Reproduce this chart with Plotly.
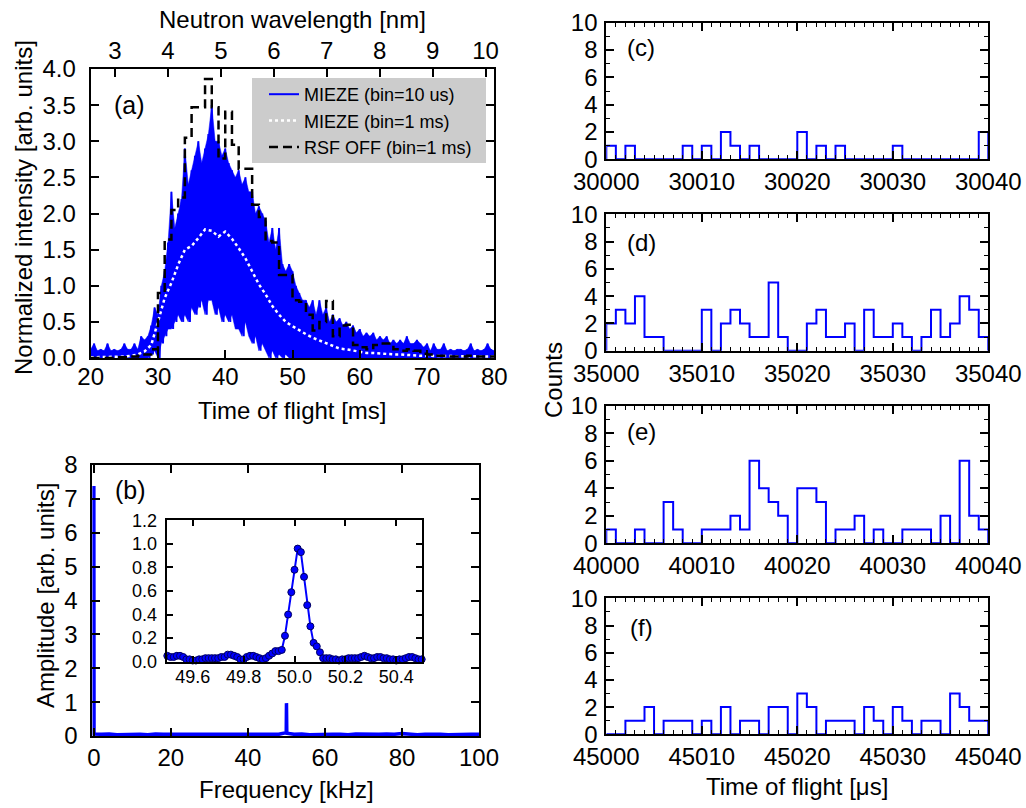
import plotly.graph_objects as go

W, H = 1026, 808

# ---------------- Panel (a): time-of-flight spectra ----------------
ms_per_nm = 7.87  # conversion read from the twin (wavelength) axis

# MIEZE, bin = 10 us : envelope of the fast oscillation, read every 0.5 ms
tof_env = [20 + 0.5 * i for i in range(121)]
mieze10_upper = [
    0.12, 0.2, 0.1, 0.12, 0.1, 0.2, 0.1, 0.12, 0.1, 0.12, 0.2, 0.12, 0.12, 0.2, 0.12, 0.3,
    0.25, 0.3, 0.45, 0.7,
    0.6, 1.0, 1.2, 1.6,
    2.3, 1.8, 2.0, 2.2,
    2.9, 2.4, 2.6, 2.8,
    3.0, 2.7, 2.9, 3.1,
    3.5, 3.0, 3.0, 2.8,
    2.9, 2.7, 2.6, 2.5,
    2.6, 2.4, 2.5, 2.3,
    2.3, 2.0, 2.1, 2.0,
    1.9, 1.6, 1.8, 1.5,
    1.8, 1.3, 1.2, 1.3,
    1.2, 1.0, 0.9, 0.8,
    0.8, 0.7, 0.8, 0.6,
    0.8, 0.6, 0.7, 0.5,
    0.6, 0.5, 0.55, 0.45,
    0.5, 0.4, 0.45, 0.35,
    0.4, 0.3, 0.35, 0.3,
    0.35, 0.25, 0.3, 0.25,
    0.3, 0.2, 0.25, 0.2,
    0.25, 0.2, 0.3, 0.2,
    0.2, 0.25, 0.2, 0.15,
    0.2, 0.1, 0.2, 0.12,
    0.12, 0.2, 0.1, 0.12,
    0.1, 0.12, 0.12, 0.1,
    0.12, 0.2, 0.1, 0.12,
    0.1, 0.12, 0.2, 0.12,
    0.1,
]
mieze10_lower = [
    0.0, 0.0, 0.0, 0.0, 0.0, 0.0, 0.0, 0.0, 0.0, 0.0, 0.0, 0.0, 0.0, 0.0, 0.0, 0.0,
    0.0, 0.0, 0.05, 0.1,
    0.0, 0.2, 0.3, 0.4,
    0.4, 0.5, 0.6, 0.5,
    0.6, 0.5, 0.7, 0.6,
    0.7, 0.8, 0.6, 0.8,
    0.8, 0.6, 0.7, 0.5,
    0.6, 0.5, 0.6, 0.4,
    0.4, 0.3, 0.5, 0.3,
    0.2, 0.3, 0.1, 0.2,
    0.1, 0.0, 0.1, 0.0,
    0.05, 0.0, 0.05, 0.0,
    0.0, 0.0, 0.0, 0.0,
    0.0, 0.0, 0.0, 0.0,
    0.0, 0.0, 0.0, 0.0,
    0.0, 0.0, 0.0, 0.0,
    0.0, 0.0, 0.0, 0.0,
    0.0, 0.0, 0.0, 0.0,
    0.0, 0.0, 0.0, 0.0,
    0.0, 0.0, 0.0, 0.0,
    0.0, 0.0, 0.0, 0.0,
    0.0, 0.0, 0.0, 0.0,
    0.0, 0.0, 0.0, 0.0,
    0.0, 0.0, 0.0, 0.0,
    0.0, 0.0, 0.0, 0.0,
    0.0, 0.0, 0.0, 0.0,
    0.0, 0.0, 0.0, 0.0,
    0.0,
]

# 1 ms bins, t = 20 ... 80 ms
tof_1ms = list(range(20, 81))
mieze_1ms = [
    0.01, 0.01, 0.01, 0.02, 0.02, 0.02, 0.03, 0.05, 0.09, 0.18,
    0.50, 0.83, 1.04, 1.29, 1.50, 1.55, 1.66, 1.78, 1.76, 1.68,
    1.75, 1.65, 1.52, 1.38, 1.20, 1.02, 0.88, 0.72, 0.60, 0.50,
    0.44, 0.38, 0.33, 0.28, 0.24, 0.20, 0.16, 0.13, 0.12, 0.10,
    0.08, 0.07, 0.07, 0.06, 0.06, 0.05, 0.05, 0.04, 0.04, 0.03,
    0.03, 0.03, 0.02, 0.02, 0.02, 0.02, 0.02, 0.02, 0.02, 0.02,
    0.02,
]
rsf_off_1ms = [
    0.0, 0.0, 0.0, 0.0, 0.01, 0.01, 0.02, 0.03, 0.05, 0.12,
    0.90, 1.64, 2.05, 2.22, 3.05, 3.47, 3.47, 3.86, 3.47, 2.76,
    3.41, 2.95, 2.62, 2.62, 2.12, 1.95, 1.62, 1.60, 1.15, 1.15,
    0.80, 0.78, 0.60, 0.38, 0.50, 0.79, 0.30, 0.45, 0.46, 0.18,
    0.15, 0.12, 0.18, 0.20, 0.20, 0.12, 0.10, 0.12, 0.10, 0.06,
    0.05, 0.03, 0.03, 0.02, 0.02, 0.02, 0.03, 0.02, 0.02, 0.02,
    0.02,
]
wavelength_ticks = [3, 4, 5, 6, 7, 8, 9, 10]
legend_names = ["MIEZE (bin=10 us)", "MIEZE (bin=1 ms)", "RSF OFF (bin=1 ms)"]

# ---------------- Panel (b): Fourier spectrum ----------------
freq_main = [0.0, 0.0125, 0.05, 2, 4, 6, 8, 10, 12, 14, 16, 18, 20, 22, 24, 26, 28,
             30, 32, 34, 36, 38, 40, 42, 44, 46, 48, 49.95, 50.0, 50.0125, 50.025,
             50.1, 52, 54, 56, 58, 60, 62, 64, 66, 68, 70, 72, 74, 76, 78, 80, 82,
             84, 86, 88, 90, 92, 94, 96, 98, 100]
amp_main = [7.38, 1.2, 0.06, 0.05, 0.06, 0.04, 0.05, 0.06, 0.05, 0.04, 0.06, 0.05,
            0.05, 0.06, 0.04, 0.05, 0.06, 0.05, 0.04, 0.05, 0.06, 0.05, 0.05, 0.04,
            0.06, 0.05, 0.05, 0.10, 0.78, 0.97, 0.93, 0.08, 0.05, 0.06, 0.04, 0.05,
            0.06, 0.05, 0.05, 0.04, 0.06, 0.05, 0.04, 0.05, 0.06, 0.05, 0.07, 0.05,
            0.04, 0.05, 0.06, 0.05, 0.04, 0.05, 0.06, 0.05, 0.05]

inset_freq = [49.5 + 0.0125 * i for i in range(81)]
inset_amp = [
    0.05, 0.04, 0.04, 0.05, 0.05, 0.04, 0.02, 0.02, 0.01, 0.01, 0.02, 0.02, 0.03, 0.03,
    0.03, 0.03, 0.03, 0.04, 0.04, 0.06, 0.06, 0.05, 0.04, 0.02, 0.02, 0.04, 0.05, 0.05,
    0.04, 0.03, 0.02, 0.03,
    0.05, 0.07, 0.09, 0.09, 0.10, 0.22, 0.40, 0.59,
    0.78, 0.96, 0.93, 0.72, 0.48, 0.30, 0.16, 0.13, 0.08, 0.03,
    0.03, 0.03, 0.02, 0.02, 0.01, 0.02, 0.02, 0.03, 0.03, 0.03, 0.03, 0.04, 0.05, 0.04,
    0.03, 0.03, 0.04, 0.04, 0.03, 0.03, 0.02, 0.02, 0.01, 0.02, 0.02, 0.03, 0.04, 0.04,
    0.03, 0.02, 0.02,
]

# ---------------- Panels (c)-(f): 1 us histograms ----------------
hist_starts = [30000, 35000, 40000, 45000]
hist_labels = ["(c)", "(d)", "(e)", "(f)"]
counts_c = [1, 0, 1, 0, 0, 0, 0, 0, 1, 0, 1, 0, 2, 1, 0, 1, 0, 0, 0, 0,
            2, 0, 1, 0, 1, 0, 0, 0, 0, 0, 1, 0, 0, 0, 0, 0, 0, 0, 0, 2]
counts_d = [2, 3, 2, 4, 1, 1, 0, 0, 0, 0, 3, 0, 2, 3, 2, 1, 1, 5, 1, 0,
            0, 2, 3, 1, 1, 2, 0, 3, 1, 1, 2, 1, 0, 1, 3, 1, 2, 4, 3, 1]
counts_e = [1, 0, 0, 1, 0, 0, 3, 1, 0, 0, 1, 1, 1, 2, 1, 6, 4, 3, 2, 0,
            4, 4, 3, 0, 1, 1, 2, 0, 1, 0, 0, 1, 1, 1, 0, 2, 0, 6, 2, 1]
counts_f = [0, 0, 1, 1, 2, 0, 1, 1, 1, 0, 1, 0, 2, 0, 1, 1, 0, 2, 2, 0,
            3, 2, 0, 1, 1, 1, 0, 2, 1, 0, 2, 1, 0, 1, 1, 0, 3, 2, 1, 1]
all_counts = [counts_c, counts_d, counts_e, counts_f]

# ---------------- layout geometry (pixels) ----------------
def fx(x0, x1):
    return [x0 / W, x1 / W]

def fy(top, bottom):
    return [1 - bottom / H, 1 - top / H]

def px(x):
    return x / W

def py(y):
    return 1 - y / H

FONT = "Liberation Sans, Arial, Helvetica, sans-serif"
BLUE = "#0000ff"
TICK = 24

base_axis = dict(showline=True, linecolor="black", linewidth=2, ticks="inside",
                 ticklen=8, tickwidth=1.5, tickcolor="black", showgrid=False,
                 zeroline=False, automargin=False,
                 tickfont=dict(size=TICK, color="black", family=FONT))

fig = go.Figure()

# ---- (a) traces ----
band_x = tof_env + tof_env[::-1]
band_y = mieze10_upper + mieze10_lower[::-1]
fig.add_trace(go.Scatter(x=band_x, y=band_y, mode="lines", fill="toself", fillcolor=BLUE,
                         line=dict(color=BLUE, width=0.5), showlegend=False,
                         hoverinfo="skip", xaxis="x", yaxis="y"))
zig_x, zig_y = [], []
for t, u, l in zip(tof_env, mieze10_upper, mieze10_lower):
    zig_x += [t, t + 0.25]
    zig_y += [u, l]
fig.add_trace(go.Scatter(x=zig_x, y=zig_y, mode="lines", name=legend_names[0],
                         legendgroup="g1", line=dict(color=BLUE, width=2),
                         xaxis="x", yaxis="y"))
fig.add_trace(go.Scatter(x=tof_1ms, y=mieze_1ms, mode="lines", name=legend_names[1],
                         legendgroup="g2",
                         line=dict(color="white", width=2.5, dash="3px,3px"),
                         xaxis="x", yaxis="y"))
fig.add_trace(go.Scatter(x=tof_1ms, y=rsf_off_1ms, mode="lines", name=legend_names[2],
                         legendgroup="g3",
                         line=dict(color="black", width=2.5, dash="9px,5px", shape="hv"),
                         xaxis="x", yaxis="y"))
# invisible trace so that the wavelength (top) axis is drawn
fig.add_trace(go.Scatter(x=[20 / ms_per_nm, 80 / ms_per_nm], y=[-10, -10], mode="lines",
                         line=dict(width=0), showlegend=False, hoverinfo="skip",
                         xaxis="x2", yaxis="y"))

# ---- (b) traces ----
fig.add_trace(go.Scatter(x=freq_main, y=amp_main, mode="lines", showlegend=False,
                         line=dict(color=BLUE, width=3.5), xaxis="x3", yaxis="y3"))
fig.add_trace(go.Scatter(x=inset_freq, y=inset_amp, mode="lines+markers", showlegend=False,
                         line=dict(color=BLUE, width=2),
                         marker=dict(color=BLUE, size=7, line=dict(color="#000060", width=1)),
                         xaxis="x4", yaxis="y4", cliponaxis=False))

# ---- (c)-(f) traces ----
for k, (start, counts) in enumerate(zip(hist_starts, all_counts)):
    edges = [start + i for i in range(len(counts) + 1)]
    xs = [edges[0]] + edges + [edges[-1]]
    ys = [0] + counts + [counts[-1], 0]
    fig.add_trace(go.Scatter(x=xs, y=ys, mode="lines", showlegend=False,
                             line=dict(color=BLUE, width=2, shape="hv"),
                             xaxis=f"x{5 + k}", yaxis=f"y{5 + k}"))

layout = dict(
    width=W, height=H, margin=dict(l=0, r=0, t=0, b=0, pad=0, autoexpand=False),
    paper_bgcolor="white", plot_bgcolor="white",
    font=dict(family=FONT, color="black"),
    showlegend=True,
    legend=dict(x=px(264), y=py(76), xanchor="left", yanchor="top",
                bgcolor="rgba(0,0,0,0)", borderwidth=0, font=dict(size=18, family=FONT),
                tracegroupgap=0, itemwidth=30),
    shapes=[dict(type="rect", xref="paper", yref="paper", x0=px(252), x1=px(486),
                 y0=py(163), y1=py(78), fillcolor="#cccccc", line=dict(width=0),
                 layer="above")],
)

# panel (a)
layout["xaxis"] = dict(base_axis, domain=fx(90.7, 494.3), range=[20, 80],
                       tickvals=[20, 30, 40, 50, 60, 70, 80],
                       anchor="y", mirror=True, ticklabelstandoff=-4)
layout["yaxis"] = dict(base_axis, domain=fy(69, 358), range=[0, 4], dtick=0.5, tickformat=".1f",
                       anchor="x", mirror="ticks", ticklabelstandoff=8)
layout["xaxis2"] = dict(base_axis, overlaying="x", side="top", anchor="y",
                        range=[20 / ms_per_nm, 80 / ms_per_nm], tickvals=wavelength_ticks,
                        showline=False, ticklabelstandoff=4)

# panel (b)
layout["xaxis3"] = dict(base_axis, domain=fx(92.3, 479), range=[-0.4, 100],
                        tickvals=[0, 20, 40, 60, 80, 100],
                        anchor="y3", mirror="ticks", ticklabelstandoff=-1)
layout["yaxis3"] = dict(base_axis, domain=fy(465, 736), range=[0, 8], dtick=1, anchor="x3",
                        mirror="ticks", ticklabelstandoff=8)
# inset
inset_tick = dict(size=18, color="black", family=FONT)
layout["xaxis4"] = dict(base_axis, domain=fx(167.3, 421.7), range=[49.5, 50.5],
                        tickvals=[49.6, 49.8, 50.0, 50.2, 50.4], tickformat=".1f", anchor="y4",
                        mirror="ticks", ticklen=6, tickfont=inset_tick, linewidth=1.5,
                        ticklabelstandoff=-2)
layout["yaxis4"] = dict(base_axis, domain=fy(520.3, 661.7), range=[0, 1.2], dtick=0.2,
                        tickformat=".1f", anchor="x4", mirror="ticks", ticklen=6,
                        tickfont=inset_tick, linewidth=1.5, ticklabelstandoff=5)

# panels (c)-(f)
right_rows = [(22.7, 159.3), (214.3, 350.7), (405.7, 543.3), (598.3, 734.3)]
for k, (start, (top, bot)) in enumerate(zip(hist_starts, right_rows)):
    xa, ya = f"xaxis{5 + k}", f"yaxis{5 + k}"
    layout[xa] = dict(base_axis, domain=fx(606.3, 988.3), range=[start, start + 40],
                      tickvals=[start + 10 * i for i in range(5)], tickformat="d",
                      anchor=f"y{5 + k}", mirror="allticks", ticklabelstandoff=0,
                      minor=dict(ticks="inside", ticklen=4, dtick=1, tickcolor="black",
                                 tickwidth=1.2, showgrid=False))
    layout[ya] = dict(base_axis, domain=fy(top, bot), range=[0, 10], dtick=2,
                      anchor=f"x{5 + k}", mirror="allticks", ticklabelstandoff=2,
                      minor=dict(ticks="inside", ticklen=4, dtick=1, tickcolor="black",
                                 tickwidth=1.2, showgrid=False))

annotations = []

def label(text, x, y, size, angle=0):
    annotations.append(dict(text=text, x=px(x), y=py(y), xref="paper", yref="paper",
                            showarrow=False, xanchor="center", yanchor="middle",
                            textangle=angle, font=dict(size=size, family=FONT, color="black")))

label("Normalized intensity [arb. units]", 23, 208, 24, -90)
label("Time of flight [ms]", 292, 410, 24)
label("Neutron wavelength [nm]", 292, 19, 24)
label("Amplitude [arb. units]", 45, 596, 24, -90)
label("Frequency [kHz]", 286, 789, 24)
label("Counts", 553, 380, 24, -90)
label("Time of flight [\u03bcs]", 797, 786, 24)
label("(a)", 129, 105, 25)
label("(b)", 130, 490, 25)
for lab, y in zip(hist_labels, [47, 243, 431, 627]):
    label(lab, 641, y, 24)

layout["annotations"] = annotations
fig.update_layout(**layout)

# remove the page's default body margin so the figure sits at the window origin
fig.write_html("out.html",
               config={"displayModeBar": False},
               post_script="document.body.style.margin='0px';"
                           "document.body.style.padding='0px';"
                           "document.documentElement.style.overflow='hidden';")
